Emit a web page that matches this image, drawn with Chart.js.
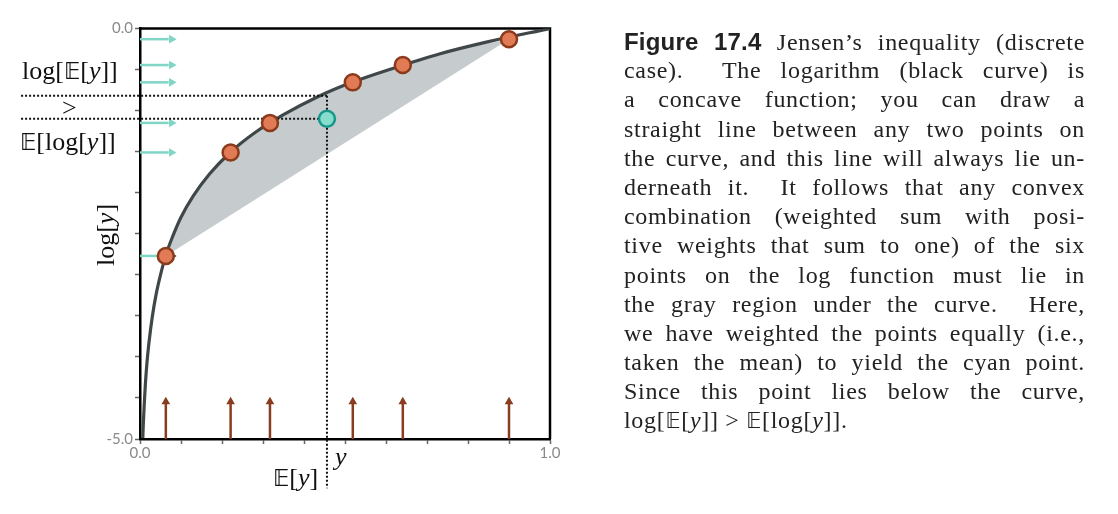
<!DOCTYPE html>
<html>
<head>
<meta charset="utf-8">
<script src="https://cdn.jsdelivr.net/npm/chart.js"></script>
<style>
  html, body { margin: 0; padding: 0; background: #fff; }
  #wrap { position: relative; width: 1118px; height: 514px; overflow: hidden; }
  #wrap canvas { position: absolute; left: 0; top: 0; }
  .m { position: absolute; font-family: "Liberation Serif", "DejaVu Serif", serif; font-size: 26px; color: #111; white-space: nowrap; line-height: 1; }
  .m i { font-style: italic; }
  .bb { font-family: "DejaVu Sans", "Noto Sans", sans-serif; font-size: 0.86em; }
  #cap { position: absolute; left: 624px; top: 27px; width: 461px; font-family: "Liberation Serif", serif; font-size: 24px; line-height: 29.2px; letter-spacing: 0.7px; color: #222; }
  #cap div { text-align: justify; text-align-last: justify; height: 29.2px; white-space: nowrap; }
  #cap div.last { text-align-last: left; }
  #cap b { font-family: "Liberation Sans", "DejaVu Sans", sans-serif; font-weight: bold; font-size: 24px; letter-spacing: 0.2px; }
</style>
</head>
<body>
<div id="wrap">
  <canvas id="myChart"></canvas>
  <span class="m" style="left:22px; top:58px;">log[<span class="bb">𝔼</span>[<i>y</i>]]</span>
  <span class="m" style="left:62px; top:95px;">&gt;</span>
  <span class="m" style="left:20px; top:129px;"><span class="bb">𝔼</span>[log[<i>y</i>]]</span>
  <span class="m" id="ylab" style="left:106px; top:235px; transform: translate(-50%,-50%) rotate(-90deg);">log[<i>y</i>]</span>
  <span class="m" style="left:273px; top:465px;"><span class="bb">𝔼</span>[<i>y</i>]</span>
  <span class="m" style="left:335px; top:444px;"><i>y</i></span>
  <div id="cap">
    <div><b>Figure 17.4</b> Jensen’s inequality (discrete</div>
    <div>case). &nbsp;The logarithm (black curve) is</div>
    <div>a concave function; you can draw a</div>
    <div>straight line between any two points on</div>
    <div>the curve, and this line will always lie un-</div>
    <div>derneath it. &nbsp;It follows that any convex</div>
    <div>combination (weighted sum with posi-</div>
    <div>tive weights that sum to one) of the six</div>
    <div>points on the log function must lie in</div>
    <div>the gray region under the curve. &nbsp;Here,</div>
    <div>we have weighted the points equally (i.e.,</div>
    <div>taken the mean) to yield the cyan point.</div>
    <div>Since this point lies below the curve,</div>
    <div class="last">log[<span class="bb">𝔼</span>[<i>y</i>]] &gt; <span class="bb">𝔼</span>[log[<i>y</i>]].</div>
  </div>
</div>
<script>
// log curve
var curveX = [0.0068, 0.008, 0.01, 0.013, 0.017, 0.022, 0.03, 0.04, 0.05, 0.065, 0.08, 0.1, 0.13, 0.17, 0.22, 0.28, 0.35, 0.43, 0.52, 0.62, 0.73, 0.85, 1.0];
var curveY = [-4.99, -4.83, -4.61, -4.34, -4.07, -3.82, -3.51, -3.22, -3.00, -2.73, -2.53, -2.30, -2.04, -1.77, -1.51, -1.27, -1.05, -0.84, -0.65, -0.48, -0.31, -0.16, 0.0];

// the six sample points
var ptsX = [0.063, 0.221, 0.317, 0.519, 0.641, 0.90];
var ptsY = [-2.77, -1.51, -1.15, -0.656, -0.445, -0.13];

// gray region: along the curve from first to last point, back along the chord
var hullX = [0.063, 0.08, 0.1, 0.15, 0.221, 0.317, 0.42, 0.519, 0.641, 0.77, 0.90, 0.063];
var hullY = [-2.77, -2.53, -2.30, -1.90, -1.51, -1.15, -0.87, -0.656, -0.445, -0.26, -0.13, -2.77];

// mean point and guide levels
var meanX = 0.456;
var meanLogY = -1.10;
var logMeanY = -0.82;
var guideStartX = -0.29;
var guideEndY = -5.6;

// arrow extents
var cyanShaftEnd = 0.07, cyanHeadX = 0.077;
var brownShaftEnd = -4.52, brownHeadY = -4.545;

var xTickLabels = [0, 1];
var yTickLabels = [0, -5];

var datasets = [];

datasets.push({
  data: hullX.map(function (x, i) { return {x: x, y: hullY[i]}; }),
  showLine: true, fill: 'shape', tension: 0,
  backgroundColor: '#c6cccd', borderWidth: 0, pointRadius: 0, order: 10
});

ptsY.forEach(function (v) {
  datasets.push({
    data: [{x: 0, y: v}, {x: cyanShaftEnd, y: v}],
    showLine: true, borderColor: '#80d5c6', borderWidth: 2.5,
    pointRadius: 0, clip: false, order: 9
  });
});
datasets.push({
  data: ptsY.map(function (v) { return {x: cyanHeadX, y: v}; }),
  pointStyle: 'triangle', rotation: 90, pointRadius: 5,
  backgroundColor: ptsY.map(function (v, i) { return i === 0 ? '#111' : '#80d5c6'; }),
  borderWidth: 0, clip: false, order: 9
});

datasets.push({
  data: curveX.map(function (x, i) { return {x: x, y: curveY[i]}; }),
  showLine: true, cubicInterpolationMode: 'monotone',
  borderColor: '#3f4749', borderWidth: 3.2, pointRadius: 0, order: 8
});

[[{x: guideStartX, y: logMeanY}, {x: meanX, y: logMeanY}],
 [{x: guideStartX, y: meanLogY}, {x: meanX, y: meanLogY}],
 [{x: meanX, y: logMeanY}, {x: meanX, y: guideEndY}]].forEach(function (seg) {
  datasets.push({
    data: seg, showLine: true, borderColor: '#111', borderWidth: 2,
    borderDash: [2, 2], pointRadius: 0, clip: false, order: 7
  });
});

ptsX.forEach(function (x) {
  datasets.push({
    data: [{x: x, y: -5}, {x: x, y: brownShaftEnd}],
    showLine: true, borderColor: '#8a3c20', borderWidth: 2.5,
    pointRadius: 0, clip: false, order: 6
  });
});
datasets.push({
  data: ptsX.map(function (x) { return {x: x, y: brownHeadY}; }),
  pointStyle: 'triangle', rotation: 0, pointRadius: 5,
  backgroundColor: '#8a3c20', borderWidth: 0, clip: false, order: 6
});

datasets.push({
  data: ptsX.map(function (x, i) { return {x: x, y: ptsY[i]}; }),
  pointRadius: 8, borderWidth: 2.5,
  backgroundColor: '#e07b56', borderColor: '#8b3a1c', clip: false, order: 2
});

datasets.push({
  data: [{x: meanX, y: meanLogY}],
  pointRadius: 8, borderWidth: 2.5,
  backgroundColor: '#86dccd', borderColor: '#17978a', clip: false, order: 1
});

var frame = {
  id: 'frame',
  beforeDatasetsDraw: function (chart) {
    var a = chart.chartArea, ctx = chart.ctx;
    ctx.save();
    ctx.strokeStyle = '#000';
    ctx.lineWidth = 2.5;
    ctx.beginPath();
    ctx.moveTo(a.left, a.top);
    ctx.lineTo(a.right, a.top);
    ctx.lineTo(a.right, a.bottom);
    ctx.stroke();
    ctx.restore();
  }
};

function near(v, list) {
  return list.some(function (t) { return Math.abs(v - t) < 1e-6; });
}

new Chart("myChart", {
  type: "scatter",
  data: {datasets: datasets},
  plugins: [frame],
  options: {
    responsive: true,
    maintainAspectRatio: false,
    animation: false,
    events: [],
    layout: {autoPadding: false, padding: {left: 80, top: 28.5, right: 568, bottom: 45}},
    plugins: {legend: {display: false}, tooltip: {enabled: false}},
    scales: {
      x: {
        type: 'linear', min: 0, max: 1,
        afterFit: function (s) { s.height = 30; },
        border: {color: '#000', width: 2.5},
        grid: {drawOnChartArea: false, tickLength: 5, color: '#666', tickWidth: 1.5},
        ticks: {
          stepSize: 0.1, padding: 0, color: '#8a8a8a', maxRotation: 0, autoSkip: false,
          font: {family: 'Lato', size: 15},
          callback: function (v) { return near(v, xTickLabels) ? v.toFixed(1) : ''; }
        }
      },
      y: {
        type: 'linear', min: -5, max: 0,
        afterFit: function (s) { s.width = 60; },
        border: {color: '#000', width: 2.5},
        grid: {drawOnChartArea: false, tickLength: 5, color: '#666', tickWidth: 1.5},
        ticks: {
          stepSize: 0.5, padding: 2, color: '#8a8a8a', autoSkip: false,
          font: {family: 'Lato', size: 15},
          callback: function (v) { return near(v, yTickLabels) ? v.toFixed(1) : ''; }
        }
      }
    }
  }
});
</script>
</body>
</html>
